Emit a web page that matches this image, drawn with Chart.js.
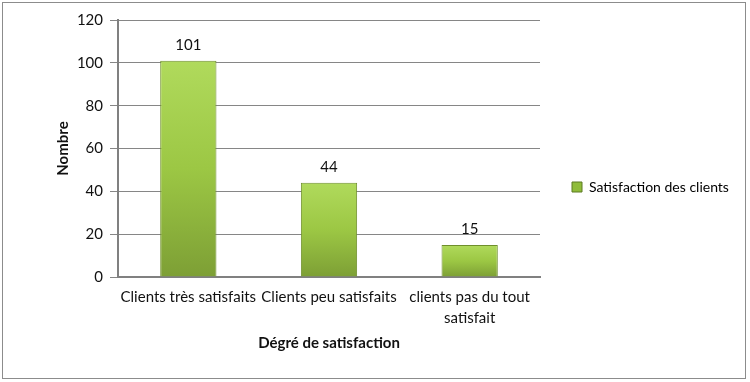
<!DOCTYPE html>
<html>
<head>
<meta charset="utf-8">
<script src="https://cdn.jsdelivr.net/npm/chart.js@4/dist/chart.umd.min.js"></script>
<style>
html,body{margin:0;padding:0;background:#fff;}
#wrap{position:relative;width:750px;height:382px;}
</style>
</head>
<body>
<div id="wrap"><canvas id="c" width="750" height="382"></canvas></div>
<script>
const categories = ["Clients très satisfaits", "Clients peu satisfaits", ["clients pas du tout", "satisfait"]];
const values = [101, 44, 15];
const seriesName = "Satisfaction des clients";
const yTicks = [0, 20, 40, 60, 80, 100, 120];

const FONT = "Lato, 'Open Sans', sans-serif";

function barGradient(ctx) {
  const chart = ctx.chart;
  const area = chart.chartArea;
  if (!area) return '#9bc53d';
  const y = chart.scales.y;
  const v = ctx.raw !== undefined ? ctx.raw : values[ctx.dataIndex];
  const top = y.getPixelForValue(v);
  const g = chart.ctx.createLinearGradient(0, top, 0, area.bottom);
  g.addColorStop(0, '#b0da5c');
  g.addColorStop(0.5, '#9cc744');
  g.addColorStop(1, '#7d9f35');
  return g;
}

const frame = {
  id: 'frame',
  afterDraw(chart) {
    const c = chart.ctx;
    c.save();
    c.strokeStyle = '#8c8c8c';
    c.lineWidth = 1;
    c.strokeRect(2.5, 2.5, 743, 376);
    c.restore();
  }
};

// Make the right-hand legend box a fixed width so the plot area ends where the reference's does
const legendWidth = {
  id: 'legendWidth',
  beforeLayout(chart) {
    const lg = chart.legend;
    if (lg && !lg._fixedWidth) {
      const orig = lg.fit;
      lg.fit = function () {
        orig.call(this);
        this.width = 210;
      };
      lg._fixedWidth = true;
    }
  }
};

const valueLabels = {
  id: 'valueLabels',
  afterDatasetsDraw(chart) {
    const c = chart.ctx;
    const meta = chart.getDatasetMeta(0);
    c.save();
    c.font = "15px " + FONT;
    c.fillStyle = '#111';
    c.textAlign = 'center';
    c.textBaseline = 'middle';
    meta.data.forEach((bar, i) => {
      c.fillText(String(chart.data.datasets[0].data[i]), bar.x, bar.y - 16);
    });
    c.restore();
  }
};

new Chart(document.getElementById('c'), {
  type: 'bar',
  data: {
    labels: categories,
    datasets: [{
      label: seriesName,
      data: values,
      backgroundColor: barGradient,
      borderColor: '#6f8f2c',
      borderWidth: 1,
      categoryPercentage: 1,
      barPercentage: 0.4
    }]
  },
  options: {
    responsive: false,
    animation: false,
    devicePixelRatio: 1,
    layout: { padding: { left: 50, top: 20, right: 0, bottom: 28 } },
    plugins: {
      tooltip: { enabled: false },
      legend: {
        position: 'right',
        labels: {
          boxWidth: 10,
          boxHeight: 10,
          padding: 32,
          color: '#111',
          font: { family: FONT, size: 14 },
          generateLabels(chart) {
            return [{
              text: seriesName,
              fillStyle: '#8fbc3a',
              strokeStyle: '#5d7a22',
              lineWidth: 1,
              datasetIndex: 0
            }];
          }
        }
      }
    },
    scales: {
      x: {
        grid: { display: false, drawTicks: false },
        border: { display: true, color: '#808080', width: 2 },
        ticks: {
          color: '#111',
          font: { family: FONT, size: 15, lineHeight: 1.4 },
          padding: 10,
          maxRotation: 0,
          autoSkip: false
        },
        title: {
          display: true,
          text: 'Dégré de satisfaction',
          color: '#111',
          font: { family: FONT, size: 15, weight: 'bold' },
          padding: { top: 4, bottom: 2 }
        },
        afterFit(s) { s.height = 382 - 277 - 28; }
      },
      y: {
        min: 0,
        max: 120,
        afterBuildTicks(s) { s.ticks = yTicks.map(v => ({ value: v })); },
        grid: { color: '#868686', tickLength: 8, lineWidth: 1 },
        border: { display: true, color: '#808080', width: 2 },
        ticks: {
          color: '#111',
          font: { family: FONT, size: 15 },
          padding: 7
        },
        title: {
          display: true,
          text: 'Nombre',
          color: '#111',
          font: { family: FONT, size: 15, weight: 'bold' },
          padding: { top: 4, bottom: 0 }
        },
        afterFit(s) { s.width = 68; }
      }
    }
  },
  plugins: [frame, legendWidth, valueLabels]
});
</script>
</body>
</html>
